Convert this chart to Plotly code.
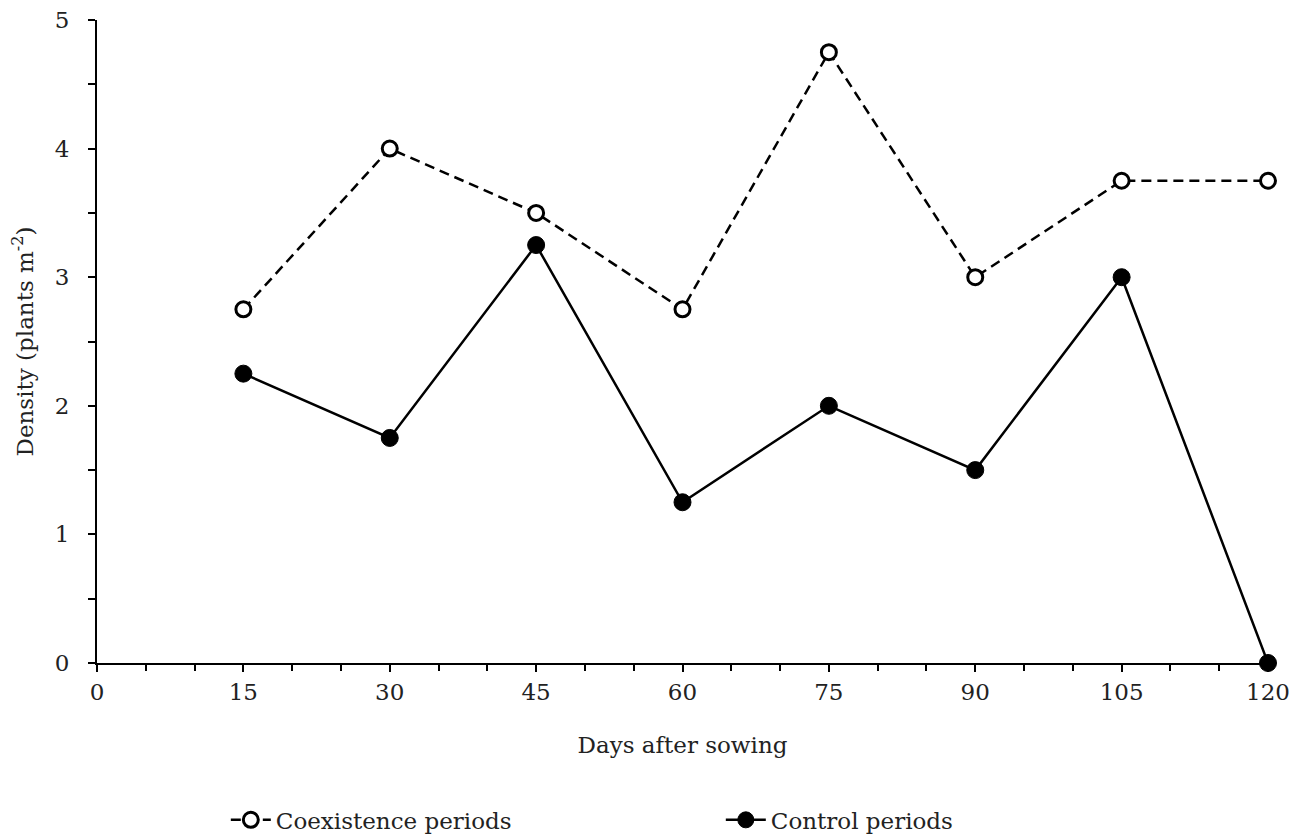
import plotly.graph_objects as go

days = [15, 30, 45, 60, 75, 90, 105, 120]
coexistence = [2.75, 4.0, 3.5, 2.75, 4.75, 3.0, 3.75, 3.75]
control = [2.25, 1.75, 3.25, 1.25, 2.0, 1.5, 3.0, 0.0]
x_ticks = [0, 15, 30, 45, 60, 75, 90, 105, 120]
y_ticks = [0, 1, 2, 3, 4, 5]

FONT = "DejaVu Serif, Liberation Serif, serif"

fig = go.Figure()
fig.add_trace(go.Scatter(
    x=days, y=coexistence, name="Coexistence periods", mode="lines+markers",
    line=dict(color="black", width=2.5, dash="10px,6px"),
    marker=dict(symbol="circle", size=15, color="white", line=dict(color="black", width=3)),
    cliponaxis=False,
))
fig.add_trace(go.Scatter(
    x=days, y=control, name="Control periods", mode="lines+markers",
    line=dict(color="black", width=2.5),
    marker=dict(symbol="circle", size=17, color="black", line=dict(color="black", width=1)),
    cliponaxis=False,
))

fig.update_layout(
    width=1295, height=832,
    margin=dict(l=89, r=35, t=12, b=177, autoexpand=False),
    plot_bgcolor="white", paper_bgcolor="white",
    font=dict(family=FONT, size=23, color="#222"),
    showlegend=True,
    legend=dict(orientation="h", x=0.11, y=-0.244, xanchor="left", yanchor="middle",
                entrywidth=440, font=dict(size=23), itemwidth=40),
)
fig.update_xaxes(
    range=[0, 120], tickvals=x_ticks, ticktext=[str(v) for v in x_ticks],
    showline=True, linecolor="black", linewidth=2, mirror=False, automargin=False,
    ticks="outside", ticklen=7, tickwidth=2, tickcolor="black",
    minor=dict(dtick=5, ticks="outside", ticklen=6, tickwidth=1.5, tickcolor="black"),
    showgrid=False, zeroline=False, ticklabelstandoff=0, ticklabeloverflow="allow",
    title=dict(text="Days after sowing", standoff=33, font=dict(size=23)),
)
fig.update_yaxes(
    range=[0, 5], tickvals=y_ticks, automargin=False,
    showline=True, linecolor="black", linewidth=2,
    ticks="outside", ticklen=7, tickwidth=2, tickcolor="black",
    minor=dict(dtick=0.5, ticks="outside", ticklen=7, tickwidth=1.5, tickcolor="black"),
    showgrid=False, zeroline=False, ticklabelstandoff=14, ticklabeloverflow="allow",
    title=dict(text="Density (plants m<sup>-2</sup>)", standoff=17, font=dict(size=23)),
)

fig.write_html("out.html")
